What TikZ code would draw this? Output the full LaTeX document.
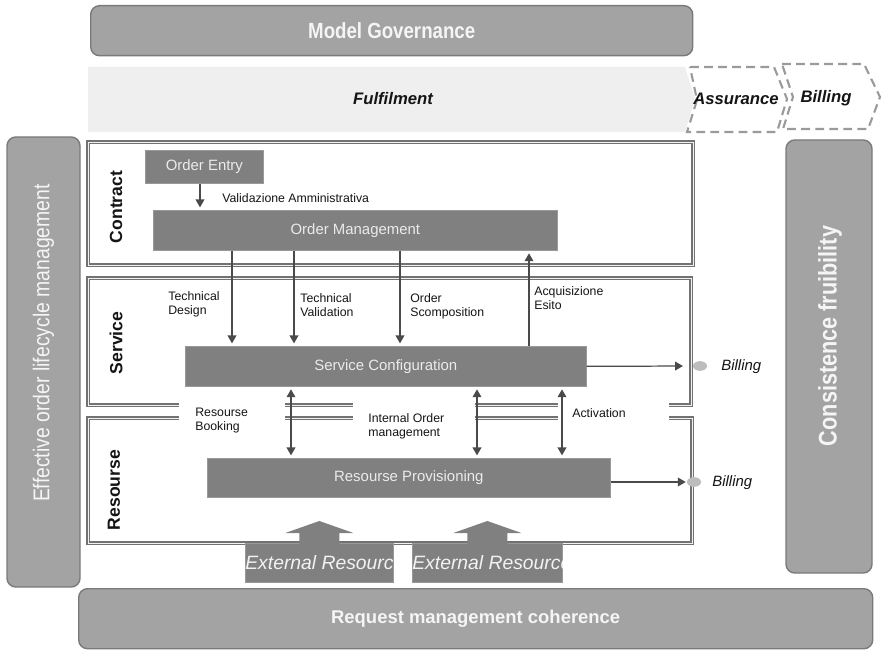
\documentclass[tikz,border=0pt]{standalone}
\usepackage{fontspec}
\setmainfont{Liberation Sans}
\newfontfamily\narrowfont[FakeStretch=0.85]{Liberation Sans}
\usepackage{tikz}
\usetikzlibrary{arrows.meta,calc,shapes.geometric}
\definecolor{band}{HTML}{EFEFEF}
\definecolor{panel}{HTML}{A3A3A3}
\definecolor{panelrim}{HTML}{7A7A7A}
\definecolor{proc}{HTML}{808080}
\definecolor{frame}{HTML}{727272}
\definecolor{wire}{HTML}{4A4A4A}
\definecolor{dashc}{HTML}{9A9A9A}
\definecolor{dotc}{HTML}{BDBDBD}
\definecolor{ink}{HTML}{151515}
\tikzset{
  wh/.style 2 args={minimum width=#1*0.02cm, minimum height=#2*0.02cm},
  panelbox/.style={draw=panelrim, fill=panel, rounded corners=5pt, line width=0.8pt, inner sep=0pt, text=white!96!black},
  sidetxt/.style={rotate=90, text=white!96!black, inner sep=0pt},
  procbox/.style={fill=proc, draw=proc!80!white, line width=0.4pt, inner sep=0pt, text=white!92!black, font=\fontsize{8.5}{10}\selectfont},
  frm/.style={draw=frame, line width=1.15pt, double=white!90!frame, double distance=0.45pt},
  arr/.style={-{Triangle[length=4.5pt,width=5pt]}, draw=wire, line width=0.7pt, shorten >=1.5pt},
  arrboth/.style={{Triangle[length=4.5pt,width=5pt]}-{Triangle[length=4.5pt,width=5pt]}, draw=wire, line width=0.7pt, shorten >=1.5pt, shorten <=1.5pt},
  lbl/.style={text=ink, font=\fontsize{7}{8}\selectfont, align=left, inner sep=0pt, anchor=north west},
  layer/.style={text=ink, font=\bfseries\fontsize{10}{12}\selectfont, rotate=90},
  stage/.style={text=ink, font=\bfseries\itshape\fontsize{9.5}{11}\selectfont},
  dashchev/.style={draw=dashc, line width=1.2pt, dash pattern=on 5pt off 3pt},
  bill/.style={text=ink, font=\itshape\fontsize{8.5}{10}\selectfont, anchor=west, inner sep=0pt},
  bdot/.style={ellipse, fill=dotc, minimum width=8pt, minimum height=5.5pt, inner sep=0pt},
  extxt/.style={text=white!95!black, font=\itshape\fontsize{11}{13}\selectfont, inner sep=0pt, anchor=west},
  blk/.style={fill=proc}
}

\begin{document}
\begin{tikzpicture}[x=0.02cm, y=-0.02cm]
  \path[use as bounding box, fill=white] (0,0) rectangle (882,651);

  % top band
  \node[panelbox, wh={602}{50}, anchor=north west, font=\narrowfont\bfseries\fontsize{12.5}{14}\selectfont] (gov) at (90,5) {Model Governance};
  \fill[band] (88,67) -- (685,67) -- (695,99) -- (685,132) -- (88,132) -- cycle;
  \node[stage] (ful) at (393,99) {Fulfilment};
  \draw[dashchev] (690,67) -- (774,67) -- (787,99) -- (777,132) -- (687,132) -- (697,100) -- cycle;
  \node[stage] (asr) at (736,99) {Assurance};
  \draw[dashchev] (782,64) -- (864,64) -- (880,97) -- (868,129) -- (783,129) -- (793,97) -- cycle;
  \node[stage] (bil) at (826,98) {Billing};

  % side and bottom panels
  \node[panelbox, wh={450}{73}, rotate=90] (eol) at (43.5,362) {};
  \node[sidetxt, font=\narrowfont\fontsize{13}{15}\selectfont] (eolt) at (43.5,343) {Effective order lifecycle management};
  \node[panelbox, wh={433}{86}, rotate=90] (cons) at (829,356.5) {};
  \node[sidetxt, font=\narrowfont\bfseries\fontsize{14.5}{16}\selectfont] (const) at (830,336) {Consistence fruibility};
  \node[panelbox, wh={794}{60}, anchor=north west, font=\bfseries\fontsize{10.5}{12}\selectfont] (req) at (78,588) {Request management coherence};

  % layer frames
  \draw[frm] (88,142) rectangle (693,265);
  \draw[frm] (179,405) -- (88,405) -- (88,278) -- (691,278) -- (691,405) -- (669,405);
  \draw[frm] (179,418) -- (88,418) -- (88,543) -- (692,543) -- (692,418) -- (669,418);
  \foreach \ya in {405,418} {
    \draw[frm] (285,\ya) -- (353,\ya);
    \draw[frm] (475,\ya) -- (558,\ya);
  }
  \node[layer] (lcon) at (116,207) {Contract};
  \node[layer] (lser) at (116,343) {Service};
  \node[layer] (lres) at (114,490) {Resourse};

  % processes
  \node[procbox, wh={118}{33}, anchor=north west] (oe) at (145,150) {Order Entry};
  \node[procbox, wh={404}{40}, anchor=north west] (om) at (153,210) {Order Management};
  \node[procbox, wh={401}{40}, anchor=north west] (sc) at (185,346) {Service Configuration};
  \node[procbox, wh={403}{39}, anchor=north west] (rp) at (207,458) {Resourse Provisioning};
  \node[procbox, wh={148}{39}, anchor=north west] (er1) at (245,543) {};
  \node[procbox, wh={150}{39}, anchor=north west] (er2) at (412,543) {};
  \foreach \er in {er1,er2} {
    \begin{scope}
      \clip (\er.south west) rectangle (\er.north east);
      \node[extxt] (\er txt) at (\er.west) {External Resource};
    \end{scope}
    \fill[blk] ($(\er.north)+(-20,1)$) -- ($(\er.north)+(-20,-10)$) -- ($(\er.north)+(-34,-10)$)
      -- ($(\er.north)+(0,-22)$) -- ($(\er.north)+(34,-10)$) -- ($(\er.north)+(20,-10)$)
      -- ($(\er.north)+(20,1)$) -- cycle;
  }

  % x positions of the flows
  \coordinate (xv) at (200,0);
  \coordinate (xa) at (232,0);
  \coordinate (xt) at (294,0);
  \coordinate (xo) at (400,0);
  \coordinate (xq) at (529,0);
  \coordinate (xb) at (291,0);
  \coordinate (xc) at (477,0);
  \coordinate (xe) at (562,0);

  \draw[arr] (oe.south -| xv) -- (om.north -| xv);
  \node[lbl] (val) at (222,193) {Validazione Amministrativa};

  \draw[arr] (om.south -| xa) -- (sc.north -| xa);
  \draw[arr] (om.south -| xt) -- (sc.north -| xt);
  \draw[arr] (om.south -| xo) -- (sc.north -| xo);
  \draw[arr] (sc.north -| xq) -- (om.south -| xq);
  \node[lbl] (tdl) at (168,291) {Technical\\Design};
  \node[lbl] (tvl) at (300,293) {Technical\\Validation};
  \node[lbl] (osl) at (410,293) {Order\\Scomposition};
  \node[lbl] (ael) at (534,286) {Acquisizione\\Esito};

  \draw[arrboth] (sc.south -| xb) -- (rp.north -| xb);
  \draw[arrboth] (sc.south -| xc) -- (rp.north -| xc);
  \draw[arrboth] (sc.south -| xe) -- (rp.north -| xe);
  \node[lbl] (rbl) at (195,408) {Resourse\\Booking};
  \node[lbl] (iol) at (368,413) {Internal Order\\management};
  \node[lbl] (acl) at (572,408) {Activation};

  % billing outputs
  \node[bdot] (bd1) at (700,366) {};
  \node[bill] (bl1) at (721,367) {Billing};
  \node[bdot] (bd2) at (694,482) {};
  \node[bill] (bl2) at (712,483) {Billing};
  \draw[arr, shorten >=5.5pt] (sc.east) -- (bd1.west);
  \draw[arr, shorten >=0.5pt] (rp.east |- bd2) -- (bd2.west);
\end{tikzpicture}
\end{document}
